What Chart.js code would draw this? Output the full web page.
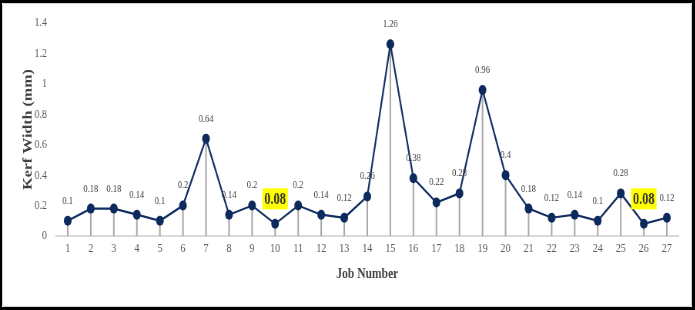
<!DOCTYPE html>
<html>
<head>
<meta charset="utf-8">
<script src="https://cdn.jsdelivr.net/npm/chart.js@4.4.1/dist/chart.umd.min.js"></script>
<style>
  html, body { margin: 0; padding: 0; overflow: hidden; background: #fff; width: 695px; height: 310px; }
  #wrap { position: absolute; left: 0; top: 0; width: 695px; height: 310px; overflow: hidden; }
  #c { position: absolute; left: 0; top: 0; transform: scaleX(0.77); transform-origin: 0 0; }
  #frame { position: absolute; left: 0; top: 0; width: 695px; height: 310px; box-sizing: border-box;
           border-style: solid; border-color: #000; border-width: 3px 3px 3px 2px; pointer-events: none; }
  #inner { position: absolute; left: 2px; top: 3px; right: 3px; bottom: 3px; border: 1px solid #d0d0d0; border-radius: 3px; pointer-events: none; }
</style>
</head>
<body>
<div id="wrap">
  <canvas id="c" width="903" height="310"></canvas>
  <div id="frame"></div>
  <div id="inner"></div>
</div>
<script>
const jobNumbers = ['1','2','3','4','5','6','7','8','9','10','11','12','13','14','15','16','17','18','19','20','21','22','23','24','25','26','27'];
const kerfWidth = [0.1,0.18,0.18,0.14,0.1,0.2,0.64,0.14,0.2,0.08,0.2,0.14,0.12,0.26,1.26,0.38,0.22,0.28,0.96,0.4,0.18,0.12,0.14,0.1,0.28,0.08,0.12];
const yTicks = [0,0.2,0.4,0.6,0.8,1,1.2,1.4];
const highlightJobs = ['10','26'];

const SERIF = '"Liberation Serif", "Times New Roman", serif';

const dropLines = {
  id: 'dropLines',
  beforeDatasetsDraw(chart) {
    const ctx = chart.ctx;
    const meta = chart.getDatasetMeta(0);
    const y0 = chart.scales.y.getPixelForValue(0);
    ctx.save();
    ctx.strokeStyle = '#a6a6a6';
    ctx.lineWidth = 2;
    meta.data.forEach(p => {
      ctx.beginPath();
      ctx.moveTo(p.x, p.y);
      ctx.lineTo(p.x, y0);
      ctx.stroke();
    });
    ctx.restore();
  }
};

const valueLabels = {
  id: 'valueLabels',
  afterDatasetsDraw(chart) {
    const ctx = chart.ctx;
    const meta = chart.getDatasetMeta(0);
    ctx.save();
    ctx.textAlign = 'center';
    ctx.textBaseline = 'middle';
    meta.data.forEach((p, i) => {
      const txt = String(kerfWidth[i]);
      if (highlightJobs.includes(jobNumbers[i])) {
        const w = 33, h = 21, cy = p.y - 25;
        ctx.fillStyle = '#ffff00';
        ctx.fillRect(p.x - w / 2, cy - h / 2, w, h);
        ctx.fillStyle = '#333333';
        ctx.font = 'bold 16px ' + SERIF;
        ctx.fillText(txt, p.x, cy + 1);
      } else {
        ctx.fillStyle = '#404040';
        ctx.font = '11px ' + SERIF;
        ctx.fillText(txt, p.x, p.y - 20);
      }
    });
    ctx.restore();
  }
};

new Chart(document.getElementById('c'), {
  type: 'line',
  data: {
    labels: jobNumbers,
    datasets: [{
      data: kerfWidth,
      borderColor: '#132f63',
      borderWidth: 2.2,
      pointBackgroundColor: '#0d2a5d',
      pointBorderColor: '#0d2a5d',
      pointRadius: 5,
      pointBorderWidth: 0,
      tension: 0,
      fill: false
    }]
  },
  options: {
    responsive: false,
    animation: false,
    devicePixelRatio: 1,
    layout: { padding: { left: 0, top: 23, right: 22, bottom: 0 } },
    plugins: { legend: { display: false }, tooltip: { enabled: false } },
    scales: {
      x: {
        offset: true,
        grid: { display: false, drawTicks: false },
        border: { display: true, color: '#d9d9d9', width: 2 },
        ticks: { color: '#595959', font: { family: SERIF, size: 13 }, padding: 5, maxRotation: 0, autoSkip: false },
        title: { display: true, text: 'Job Number', color: '#404040', font: { family: SERIF, size: 15, weight: 'bold' }, padding: { top: 0, bottom: 27 } },
        afterFit(s) { s.height = 74; }
      },
      y: {
        min: 0, max: 1.4,
        afterBuildTicks(s) { s.ticks = yTicks.map(v => ({ value: v })); },
        grid: { display: false, drawTicks: false },
        border: { display: false },
        ticks: { color: '#595959', font: { family: SERIF, size: 13 }, padding: 12, callback: v => String(v) },
        title: { display: true, text: 'Kerf Width (mm)', color: '#404040', font: { family: SERIF, size: 16, weight: 'bold' }, padding: { top: 27, bottom: 0 } },
        afterFit(s) { s.width = 73; }
      }
    }
  },
  plugins: [dropLines, valueLabels]
});
</script>
</body>
</html>
